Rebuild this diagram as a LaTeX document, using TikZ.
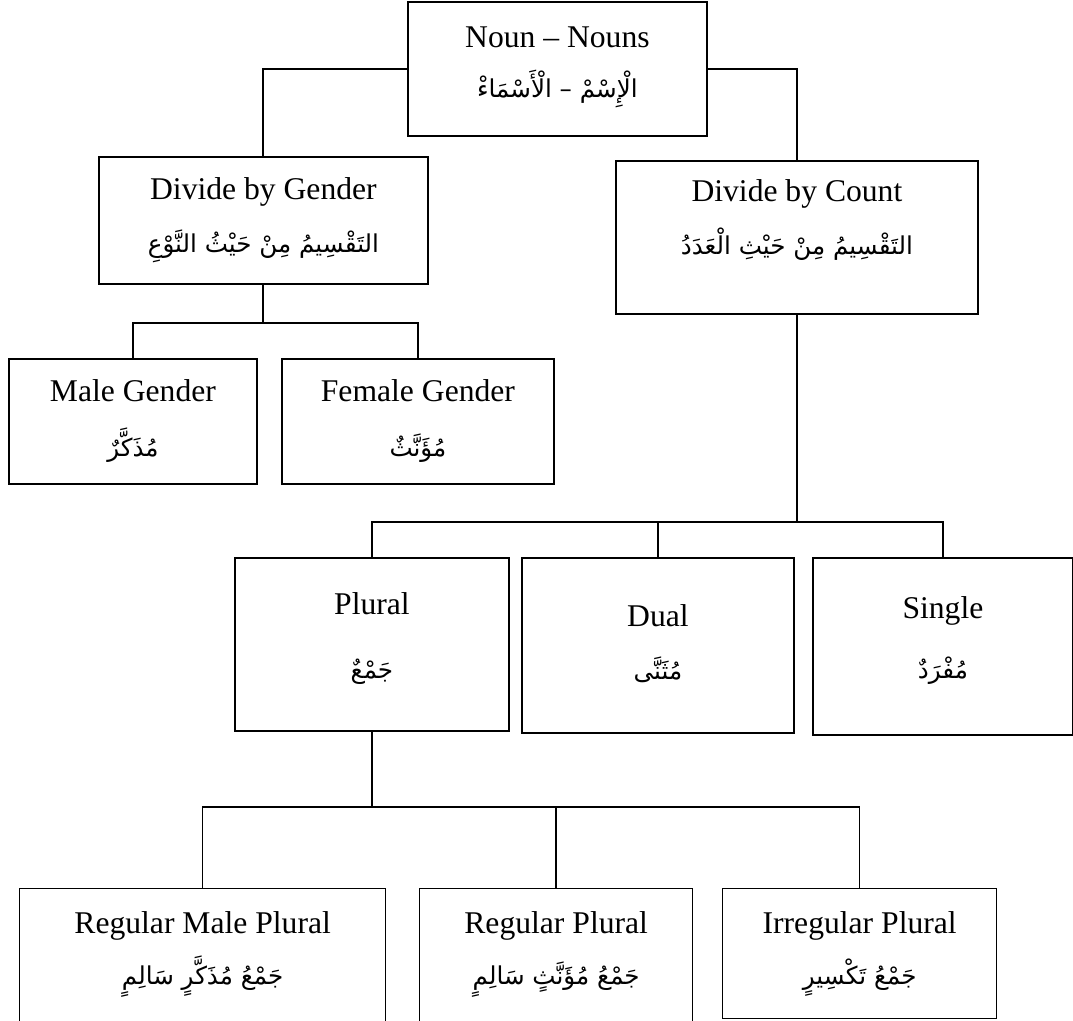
\documentclass[tikz,border=0pt]{standalone}
\usepackage{fontspec}
\setmainfont{Liberation Serif}
\newfontfamily\arabicfont[Script=Arabic]{DejaVu Sans}
\TeXXeTstate=1
\usetikzlibrary{positioning}
\newcommand{\arb}[1]{{\arabicfont\fontsize{14}{30}\selectfont\beginR #1\endR}}

\begin{document}
\begin{tikzpicture}[x=0.02cm,y=-0.02cm]
\tikzstyle{box}=[draw,line width=1.1pt,anchor=north west,inner sep=0pt]
\tikzstyle{lab}=[align=center,anchor=north,inner sep=0pt,font=\fontsize{18}{30}\selectfont]
\tikzstyle{link}=[line width=1.1pt]
\useasboundingbox (0,0) rectangle (1073,1021);
% boxes
\node[box,minimum width=5.98cm,minimum height=2.68cm] (top) at (407,1) {};
\node[box,minimum width=6.58cm,minimum height=2.54cm] (gen) at (98,156) {};
\node[box,minimum width=7.24cm,minimum height=3.06cm] (cnt) at (615,160) {};
\node[box,minimum width=4.96cm,minimum height=2.5cm] (male) at (8,358) {};
\node[box,minimum width=5.44cm,minimum height=2.5cm] (fem) at (281,358) {};
\node[box,minimum width=5.48cm,minimum height=3.46cm] (plu) at (234,557) {};
\node[box,minimum width=5.44cm,minimum height=3.5cm] (dual) at (521,557) {};
\node[box,minimum width=5.2cm,minimum height=3.54cm] (sing) at (812,557) {};
\node[box,line width=0.8pt,minimum width=7.32cm,minimum height=3.4cm] (rmp) at (19,888) {};
\node[box,line width=0.8pt,minimum width=5.46cm,minimum height=3.4cm] (rp) at (419,888) {};
\node[box,line width=0.8pt,minimum width=5.48cm,minimum height=2.6cm] (ip) at (722,888) {};
% labels
\node[lab,font=\fontsize{18}{28.5}\selectfont] (top-t) at ([yshift=-0.51cm]top.north) {Noun – Nouns\\\arb{الْإِسْمْ – الْأَسْمَاءْ}};
\node[lab] (gen-t) at ([yshift=-0.43cm]gen.north) {Divide by Gender\\\arb{التَقْسِيمُ مِنْ حَيْثُ النَّوْعِ}};
\node[lab] (cnt-t) at ([yshift=-0.39cm]cnt.north) {Divide by Count\\\arb{التَقْسِيمُ مِنْ حَيْثِ الْعَدَدُ}};
\node[lab,font=\fontsize{18}{31}\selectfont] (male-t) at ([yshift=-0.43cm]male.north) {Male Gender\\\arb{مُذَكَّرٌ}};
\node[lab,font=\fontsize{18}{31}\selectfont] (fem-t) at ([yshift=-0.43cm]fem.north) {Female Gender\\\arb{مُؤَنَّثٌ}};
\node[lab,font=\fontsize{18}{36}\selectfont] (plu-t) at ([yshift=-0.71cm]plu.north) {Plural\\\arb{جَمْعٌ}};
\node[lab] (dual-t) at ([yshift=-0.95cm]dual.north) {Dual\\\arb{مُثَنَّى}};
\node[lab,font=\fontsize{18}{34}\selectfont] (sing-t) at ([yshift=-0.79cm]sing.north) {Single\\\arb{مُفْرَدٌ}};
\node[lab,font=\fontsize{18}{29}\selectfont] (rmp-t) at ([yshift=-0.47cm]rmp.north) {Regular Male Plural\\\arb{جَمْعُ مُذَكَّرٍ سَالِمٍ}};
\node[lab,font=\fontsize{18}{29}\selectfont] (rp-t) at ([yshift=-0.47cm]rp.north) {Regular Plural\\\arb{جَمْعُ مُؤَنَّثٍ سَالِمٍ}};
\node[lab,font=\fontsize{18}{29}\selectfont] (ip-t) at ([yshift=-0.47cm]ip.north) {Irregular Plural\\\arb{جَمْعُ تَكْسِيرٍ}};
% connectors
\draw[link] (top.west) -| (gen.north); \draw[link] (top.east) -| (cnt.north);
\draw[link] (gen.south) -- ++(0,38) coordinate (gj);
\draw[link] (male.north) |- (gj) -| (fem.north);
\draw[link] (cnt.south) -- ++(0,207) coordinate (cj);
\draw[link] (plu.north) |- (cj) -| (sing.north); \draw[link] (dual.north) -- (dual.north |- cj);
\draw[link] (plu.south) -- ++(0,75) coordinate (pj);
\draw[link,line width=0.8pt] (rmp.north) |- (pj) -| (ip.north); \draw[link,line width=0.8pt] (rp.north) -- (rp.north |- pj);
\end{tikzpicture}
\end{document}
